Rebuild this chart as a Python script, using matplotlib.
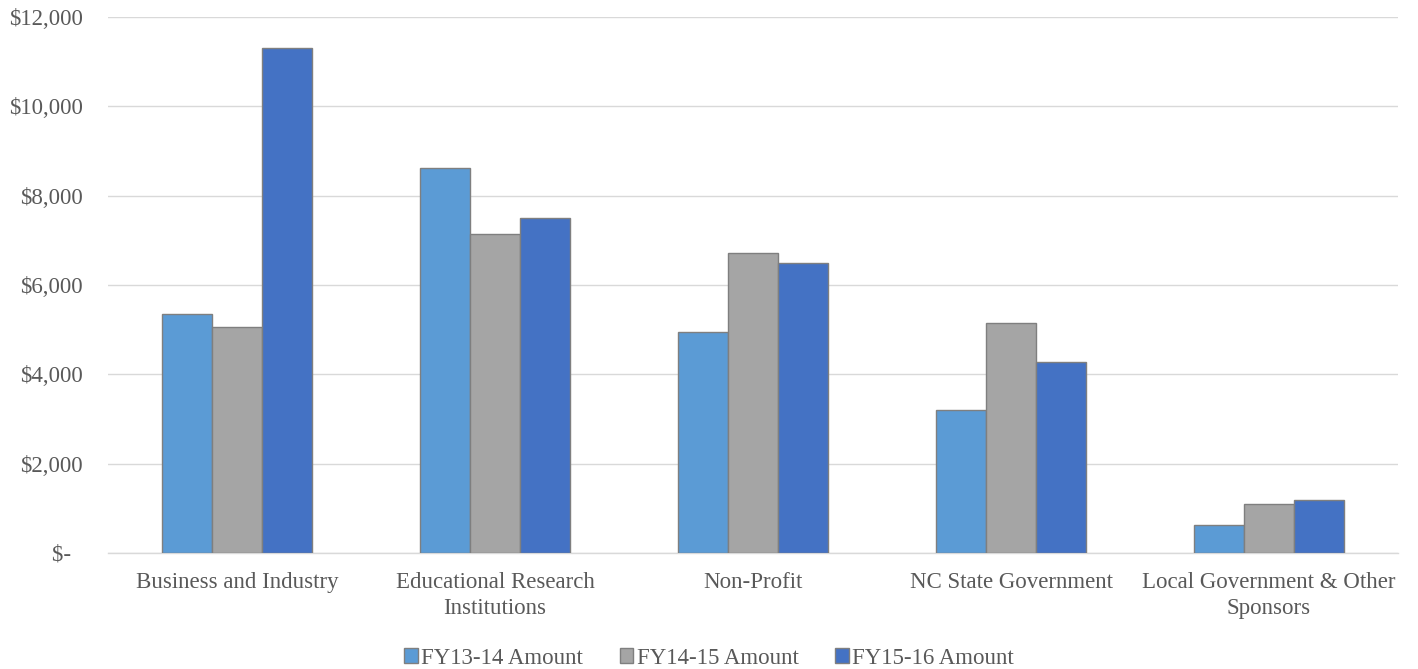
import numpy as np
import matplotlib.pyplot as plt
from matplotlib.ticker import FuncFormatter

# data
categories = ['Business and Industry', 'Educational Research\nInstitutions',
              'Non-Profit', 'NC State Government',
              'Local Government & Other\nSponsors']
series_names = ['FY13-14 Amount', 'FY14-15 Amount', 'FY15-16 Amount']
fy13_14 = [5350, 8620, 4950, 3200, 630]
fy14_15 = [5060, 7150, 6720, 5150, 1100]
fy15_16 = [11300, 7500, 6500, 4280, 1190]
y_ticks = [0, 2000, 4000, 6000, 8000, 10000, 12000]

colors = ['#5B9BD5', '#A5A5A5', '#4472C4']
text_color = '#595959'
grid_color = '#D9D9D9'

plt.rcParams['font.family'] = ['Liberation Serif', 'DejaVu Serif']

fig = plt.figure(figsize=(14.18, 6.69), dpi=100)
ax = fig.add_axes([108 / 1418, 1 - 553 / 669, 1290 / 1418, (553 - 17) / 669])

x = np.arange(len(categories))
width = 0.194
for i, (vals, name) in enumerate(zip([fy13_14, fy14_15, fy15_16], series_names)):
    ax.bar(x + (i - 1) * width, vals, width, color=colors[i], label=name,
           edgecolor='#7F7F7F', linewidth=1.0, zorder=3)

ax.set_xlim(-0.5, len(categories) - 0.5)
ax.set_ylim(0, 12000)
ax.set_yticks(y_ticks)


def money(v, pos):
    if v == 0:
        return '$-  '
    return '${:,.0f}'.format(v)


ax.yaxis.set_major_formatter(FuncFormatter(money))
ax.set_xticks(x)
ax.set_xticklabels(categories)
ax.tick_params(axis='both', length=0, labelsize=16.5, colors=text_color)
ax.tick_params(axis='y', pad=18)
ax.tick_params(axis='x', pad=14)
for lbl in ax.get_xticklabels():
    lbl.set_linespacing(1.3)

ax.grid(axis='y', color=grid_color, linewidth=1.0, zorder=0)
for side in ['top', 'right', 'left']:
    ax.spines[side].set_visible(False)
ax.spines['bottom'].set_color(grid_color)
ax.spines['bottom'].set_linewidth(1.0)

fig.legend(loc='center', bbox_to_anchor=(0.5, 1 - 658 / 669), ncol=3,
           frameon=False, fontsize=16.5, labelcolor=text_color,
           handlelength=0.6, handleheight=0.6, handletextpad=0.15,
           columnspacing=1.6)

fig.savefig('out.png', dpi=100)
